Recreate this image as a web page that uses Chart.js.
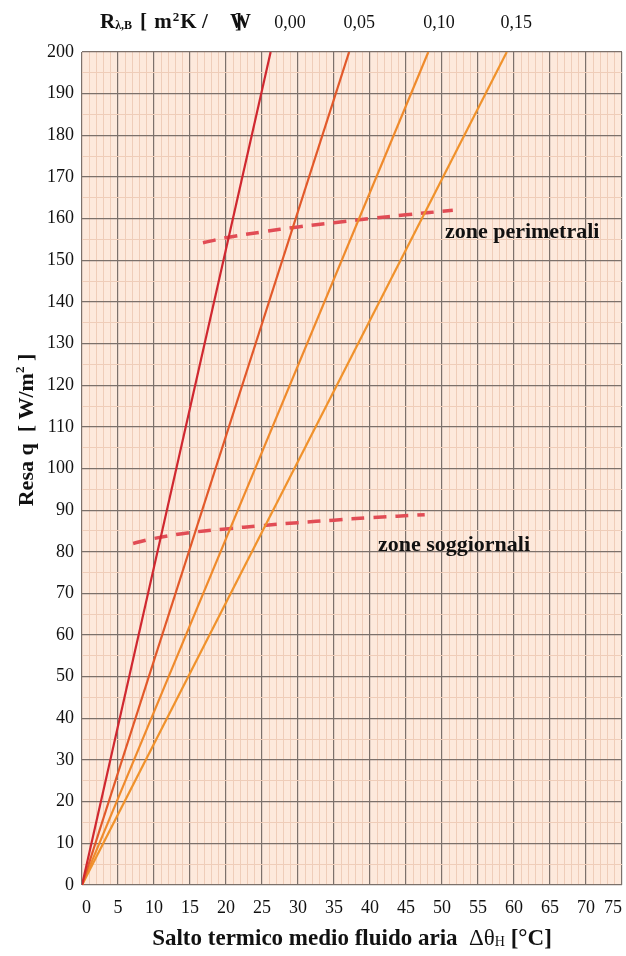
<!DOCTYPE html>
<html>
<head>
<meta charset="utf-8">
<script src="https://cdn.jsdelivr.net/npm/chart.js@4.4.1/dist/chart.umd.min.js"></script>
<style>
  html, body { margin: 0; padding: 0; background: #fff; }
  #wrap { width: 626px; height: 956px; position: relative; }
</style>
</head>
<body>
<div id="wrap"><canvas id="c"></canvas></div>
<script>
/* ── dati ── */
const xTicks = [0, 5, 10, 15, 20, 25, 30, 35, 40, 45, 50, 55, 60, 65, 70, 75];
const yTicks = [0, 10, 20, 30, 40, 50, 60, 70, 80, 90, 100, 110, 120, 130, 140, 150, 160, 170, 180, 190, 200];

// resistenze R λ,B e salto termico a cui ogni retta raggiunge q = 200 W/m²
const rLabels = ['0,00', '0,05', '0,10', '0,15'];
const rLabelX = [28.9, 38.5, 49.6, 60.3];
const rLineEndX = [26.2, 37.1, 48.1, 59.0];
const rLineEndY = [200, 200, 200, 200];
const rColors = ['#d02830', '#e2592a', '#ef8a2c', '#f0922c'];

// curve limite (tratteggiate)
const perimX = [16.8, 20, 25, 30, 35, 40, 45, 51.5];
const perimY = [154.2, 155.4, 156.8, 158, 159, 160, 160.9, 162];
const soggX = [7.1, 10, 15, 20, 25, 30, 35, 40, 47.6];
const soggY = [82, 83.2, 84.6, 85.5, 86.3, 87, 87.6, 88.2, 88.9];

const notes = [
  { text: 'zone perimetrali', x: 50.4, y: 156.8 },
  { text: 'zone soggiornali', x: 41.1, y: 81.6 }
];

const SERIF = '"Liberation Serif", "DejaVu Serif", serif';
const MAJOR = '#7c716b';
const MINOR = '#efcdb9';

const pts = function (xs, ys) { return xs.map(function (x, i) { return { x: x, y: ys[i] }; }); };

const datasets = rLineEndX.map(function (x, i) {
  return {
    data: [{ x: 0, y: 0 }, { x: x, y: rLineEndY[i] }],
    borderColor: rColors[i], borderWidth: 2.2, pointRadius: 0, xAxisID: 'x', yAxisID: 'y'
  };
});
[[perimX, perimY], [soggX, soggY]].forEach(function (c) {
  datasets.push({
    data: pts(c[0], c[1]), borderColor: '#e14c55', borderWidth: 3.5, borderDash: [13, 9],
    pointRadius: 0, tension: 0.4, xAxisID: 'x', yAxisID: 'y'
  });
});

/* ── sfondo area + testi ── */
const paper = {
  id: 'paper',
  beforeDraw: function (ch) {
    const a = ch.chartArea, g = ch.ctx;
    g.save();
    g.fillStyle = '#fde9dc';
    g.fillRect(a.left, a.top, a.right - a.left, a.bottom - a.top);
    g.restore();
  },
  afterDraw: function (ch) {
    const g = ch.ctx, a = ch.chartArea, sx = ch.scales.x, sy = ch.scales.y;
    g.save();
    g.fillStyle = '#111';
    g.textBaseline = 'middle';
    g.textAlign = 'left';

    // note sulle curve
    g.font = 'bold 22px ' + SERIF;
    notes.forEach(function (n) { g.fillText(n.text, sx.getPixelForValue(n.x), sy.getPixelForValue(n.y)); });

    // intestazione R λ,B [ m²K / W ]
    let x = a.left + 18, y = 23;
    g.font = 'bold 21px ' + SERIF; g.fillText('R', x, y); x += g.measureText('R').width;
    g.font = 'bold 12px ' + SERIF; g.fillText('λ,B', x, y + 3); x += g.measureText('λ,B').width + 8;
    g.font = 'bold 21px ' + SERIF; g.fillText('[', x, y); x += g.measureText('[ ').width + 2;
    g.fillText('m', x, y); x += g.measureText('m').width + 1;
    g.font = 'bold 13px ' + SERIF; g.fillText('2', x, y - 5); x += g.measureText('2').width + 1;
    g.font = 'bold 21px ' + SERIF; g.fillText('K /', x, y);
    g.fillText('W', a.left + 148, y); g.fillText(']', a.left + 153, y);

    // titolo asse y
    g.save();
    g.translate(27, 430);
    g.rotate(-Math.PI / 2);
    g.textAlign = 'left';
    g.font = 'bold 22px ' + SERIF;
    const t1 = 'Resa q  [ W/m', t2 = ' ]';
    const tw1 = g.measureText(t1).width, tw2 = g.measureText(t2).width;
    g.font = 'bold 13px ' + SERIF; const tw3 = g.measureText('2').width;
    let tx = -(tw1 + tw2 + tw3) / 2;
    g.font = 'bold 22px ' + SERIF; g.fillText(t1, tx, 0); tx += tw1;
    g.font = 'bold 13px ' + SERIF; g.fillText('2', tx, -6); tx += tw3;
    g.font = 'bold 22px ' + SERIF; g.fillText(t2, tx, 0);
    g.restore();

    // titolo asse x
    const p1 = 'Salto termico medio fluido aria  ', p2 = 'Δθ', p3 = 'H', p4 = ' [°C]';
    g.font = 'bold 23px ' + SERIF; const w1 = g.measureText(p1).width, w4 = g.measureText(p4).width;
    g.font = '23px ' + SERIF; const w2 = g.measureText(p2).width;
    g.font = '14px ' + SERIF; const w3 = g.measureText(p3).width;
    x = (a.left + a.right) / 2 - (w1 + w2 + w3 + w4) / 2; y = 939;
    g.font = 'bold 23px ' + SERIF; g.fillText(p1, x, y); x += w1;
    g.font = '23px ' + SERIF; g.fillText(p2, x, y); x += w2;
    g.font = '14px ' + SERIF; g.fillText(p3, x, y + 3); x += w3;
    g.font = 'bold 23px ' + SERIF; g.fillText(p4, x, y);
    g.restore();
  }
};

new Chart(document.getElementById('c'), {
  type: 'line',
  data: { datasets: datasets },
  options: {
    responsive: true, maintainAspectRatio: false, animation: false,
    layout: { padding: { left: 0, right: 4, top: 0, bottom: 0 } },
    plugins: { legend: { display: false }, tooltip: { enabled: false } },
    scales: {
      x: {
        type: 'linear', min: xTicks[0], max: xTicks[xTicks.length - 1],
        afterFit: function (s) { s.height = 71; s.paddingRight = 0; s.paddingLeft = 0; },
        ticks: {
          stepSize: 1, autoSkip: false, maxRotation: 0, padding: 12, color: '#111', align: 'inner',
          font: { family: SERIF, size: 18 },
          callback: function (v) { return xTicks.indexOf(v) >= 0 ? String(v) : ''; }
        },
        grid: {
          drawTicks: false, lineWidth: function (c) { return c.tick && c.tick.value % 5 === 0 ? 1.2 : 1; },
          color: function (c) { return c.tick && c.tick.value % 5 === 0 ? MAJOR : MINOR; }
        },
        border: { display: false }
      },
      x2: {
        type: 'linear', position: 'top', min: xTicks[0], max: xTicks[xTicks.length - 1],
        afterFit: function (s) { s.height = 52; s.paddingRight = 0; s.paddingLeft = 0; },
        afterBuildTicks: function (s) { s.ticks = rLabelX.map(function (v) { return { value: v }; }); },
        ticks: {
          autoSkip: false, maxRotation: 0, padding: 18, color: '#111',
          font: { family: SERIF, size: 18 },
          callback: function (v, i) { return rLabels[i]; }
        },
        grid: { display: false, drawTicks: false },
        border: { display: false }
      },
      y: {
        type: 'linear', min: yTicks[0], max: yTicks[yTicks.length - 1],
        afterFit: function (s) { s.width = 82; },
        ticks: {
          stepSize: 5, autoSkip: false, padding: 8, color: '#111',
          font: { family: SERIF, size: 18 },
          callback: function (v) { return yTicks.indexOf(v) >= 0 ? String(v) : ''; }
        },
        grid: {
          drawTicks: false, lineWidth: function (c) { return c.tick && c.tick.value % 10 === 0 ? 1.2 : 1; },
          color: function (c) { return c.tick && c.tick.value % 10 === 0 ? MAJOR : MINOR; }
        },
        border: { display: false }
      }
    }
  },
  plugins: [paper]
});
</script>
</body>
</html>
